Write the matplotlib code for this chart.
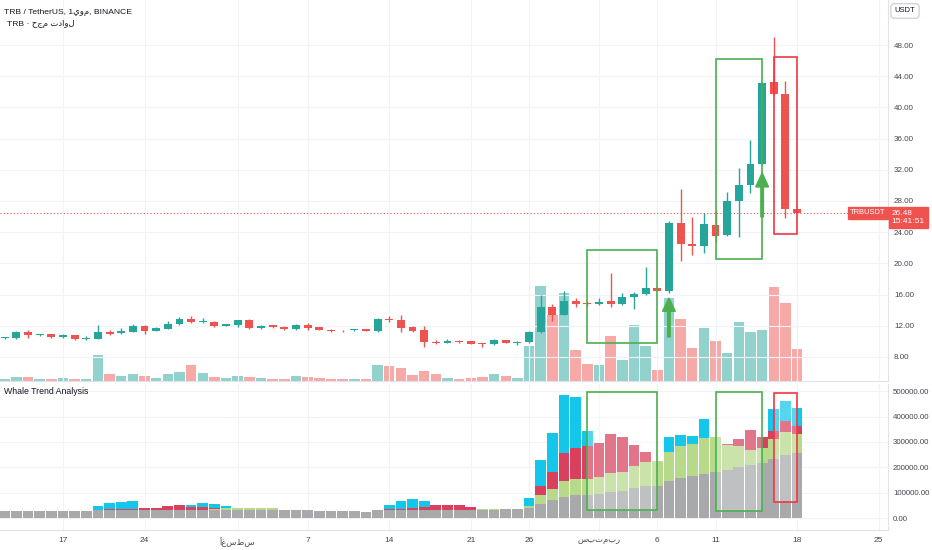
import matplotlib
matplotlib.use('Agg')
import matplotlib.pyplot as plt
import matplotlib.dates as mdates
from matplotlib.patches import Rectangle
from matplotlib.ticker import FuncFormatter
import pandas as pd
import numpy as np

plt.rcParams['font.family'] = ['Liberation Sans', 'DejaVu Sans']

# daily candles TRB/USDT, 12 Jul -> 18 Sep
dates = pd.date_range('2023-07-12', '2023-09-18', freq='D')
opens = [10.38, 10.38, 11.15, 10.85, 10.97, 10.50, 10.80, 10.25, 10.29, 11.15,
         11.06, 11.23, 11.96, 11.36, 11.57, 12.17, 12.85, 12.43, 12.50, 12.00,
         12.04, 12.68, 11.70, 12.04, 11.79, 11.53, 12.08, 11.79, 11.49, 11.36,
         11.40, 11.53, 11.27, 12.90, 12.77, 11.79, 11.40, 9.95, 9.78, 10.08,
         9.99, 9.82, 9.60, 10.12, 9.78, 9.90, 11.25, 14.45, 13.43, 15.22,
         14.78, 14.75, 15.13, 14.75, 15.73, 16.07, 16.90, 16.50, 25.13, 22.44,
         22.27, 24.90, 23.60, 28.00, 30.05, 32.70, 43.20, 41.70, 26.97]
highs = [10.52, 11.27, 11.40, 11.00, 11.00, 10.97, 10.85, 10.63, 12.04, 11.50,
         11.66, 12.20, 12.13, 11.87, 12.64, 13.10, 13.30, 12.98, 12.55, 12.25,
         12.77, 12.85, 12.08, 12.10, 11.92, 12.26, 12.34, 11.85, 11.57, 11.40,
         11.62, 11.60, 13.00, 13.30, 13.37, 12.00, 12.00, 10.20, 10.25, 10.20,
         10.05, 9.85, 10.30, 10.20, 10.00, 11.30, 15.95, 14.79, 16.40, 15.56,
         15.20, 15.50, 18.80, 16.16, 16.30, 19.58, 16.95, 25.40, 29.60, 25.90,
         26.40, 26.80, 29.10, 32.27, 35.80, 43.20, 48.98, 43.38, 27.00]
lows = [10.30, 10.30, 10.38, 10.63, 10.48, 10.42, 10.20, 10.22, 10.25, 10.80,
        10.97, 11.20, 10.97, 11.32, 11.55, 12.08, 12.30, 12.40, 11.90, 11.95,
        11.83, 11.62, 11.62, 11.70, 11.40, 11.50, 11.40, 11.40, 11.23, 11.20,
        11.36, 11.30, 11.25, 12.43, 11.23, 11.19, 9.22, 9.70, 9.75, 9.82,
        9.60, 9.26, 9.55, 9.75, 9.52, 9.84, 11.10, 12.57, 13.40, 14.45,
        14.50, 14.70, 14.45, 14.67, 14.15, 16.00, 16.40, 16.25, 20.35, 21.07,
        21.30, 22.80, 23.50, 23.34, 29.00, 32.60, 41.60, 25.86, 26.40]
closes = [10.45, 11.15, 10.80, 10.97, 10.50, 10.80, 10.33, 10.46, 11.15, 11.00,
          11.32, 12.00, 11.36, 11.70, 12.26, 12.90, 12.47, 12.60, 11.96, 12.20,
          12.68, 11.66, 11.96, 11.79, 11.53, 12.04, 11.66, 11.44, 11.32, 11.27,
          11.53, 11.36, 12.90, 12.73, 11.75, 11.36, 9.86, 9.78, 10.08, 9.95,
          9.70, 9.60, 10.12, 9.78, 9.95, 11.23, 14.45, 13.43, 15.22, 14.75,
          14.74, 15.10, 14.75, 15.73, 16.07, 16.90, 16.50, 25.13, 22.44, 22.27,
          25.00, 23.55, 28.00, 30.05, 32.70, 43.08, 41.70, 26.97, 26.48]
# relative volume (no scale shown on the chart)
volume = [2.3, 4.0, 4.0, 2.0, 2.0, 2.7, 2.3, 1.7, 26.3, 6.7,
          5.3, 6.7, 4.7, 3.3, 7.3, 8.7, 15.7, 8.0, 4.3, 3.0,
          5.0, 4.3, 2.7, 2.3, 2.3, 4.7, 4.0, 3.0, 2.3, 1.7,
          2.0, 1.7, 15.7, 14.7, 12.7, 6.0, 10.0, 6.7, 3.0, 2.3,
          3.0, 4.0, 7.3, 5.0, 3.0, 35.0, 95.0, 65.7, 88.3, 31.0,
          17.0, 16.3, 44.7, 21.3, 56.0, 35.3, 11.0, 83.3, 61.7, 33.0,
          53.0, 40.0, 28.3, 59.0, 49.3, 51.3, 94.0, 78.0, 32.0]

# Whale Trend Analysis columns (thousands), 0 = hidden
whale_gray = [29, 29, 29, 29, 27, 27, 27, 27, 31, 31,
              31, 31, 31, 31, 31, 31, 31, 31, 31, 31,
              31, 31, 31, 31, 31, 31, 31, 29, 29, 29,
              29, 26, 33, 33, 33, 33, 33, 33, 33, 33,
              33, 33, 33, 35, 35, 42, 56, 71, 84, 90,
              92, 96, 102, 107, 118, 127, 127, 147, 157, 166,
              173, 181, 190, 201, 209, 216, 234, 249, 257]
whale_green = [0, 0, 0, 0, 0, 0, 0, 0, 0, 0,
               0, 0, 0, 0, 0, 0, 0, 0, 38, 41,
               39, 39, 39, 39, 32, 32, 32, 0, 0, 0,
               0, 0, 0, 0, 0, 0, 0, 0, 0, 0,
               0, 35, 35, 37, 37, 50, 92, 117, 148, 154,
               154, 162, 178, 181, 207, 221, 225, 260, 283, 292,
               314, 318, 288, 284, 268, 278, 312, 339, 332]
whale_red = [0, 0, 0, 0, 0, 0, 0, 0, 34, 36,
             36, 38, 42, 41, 48, 53, 44, 44, 40, 0,
             0, 0, 0, 0, 0, 0, 0, 0, 0, 0,
             0, 0, 0, 36, 38, 42, 46, 53, 53, 53,
             45, 0, 0, 0, 0, 0, 127, 181, 255, 278,
             285, 297, 331, 321, 288, 262, 0, 0, 0, 0,
             0, 0, 291, 312, 346, 318, 345, 384, 364]
whale_cyan = [0, 0, 0, 0, 0, 0, 0, 0, 50, 59,
              64, 69, 0, 0, 0, 0, 54, 61, 57, 48,
              0, 0, 0, 0, 0, 0, 0, 0, 0, 0,
              0, 0, 0, 53, 68, 76, 68, 0, 0, 0,
              0, 0, 0, 0, 0, 78, 229, 337, 484, 475,
              343, 0, 0, 0, 0, 0, 0, 319, 326, 323,
              390, 0, 0, 0, 0, 0, 430, 462, 432]

tick_dates = ['2023-07-17', '2023-07-24', '2023-08-01', '2023-08-07', '2023-08-14', '2023-08-21',
              '2023-08-26', '2023-09-01', '2023-09-06', '2023-09-11', '2023-09-18', '2023-09-25']
tick_labels = ['17', '24', 'أغسطس', '7', '14', '21', '26', 'سبتمبر', '6', '11', '18', '25']
price_ticks = [8, 12, 16, 20, 24, 28, 32, 36, 40, 44, 48]
whale_ticks = [0, 100000, 200000, 300000, 400000, 500000]
last_price = 26.48

UP, DOWN = '#26a69a', '#ef5350'
GRID = '#f0f3fa'
TXT = '#131722'
AXT = '#434651'

x = mdates.date2num(dates)
o, h, l, c = map(np.array, (opens, highs, lows, closes))
up = c >= o
x0 = mdates.date2num(pd.Timestamp('2023-07-17'))
xt = mdates.date2num(pd.to_datetime(tick_dates))

def day(s):
    return mdates.date2num(pd.Timestamp(s))

fig = plt.figure(figsize=(9.32, 5.5), dpi=100)
ax = fig.add_axes([0, 1 - 381 / 550, 888 / 932, 381 / 550])
axv = ax.twinx()
ax2 = fig.add_axes([0, 20 / 550, 888 / 932, 146 / 550], sharex=ax)

# volume under the candles
axv.bar(x, volume, width=0.9, color=np.where(up, '#92d2cc', '#f7a9a7'), zorder=1)
axv.set_ylim(0, 381)
axv.set_yticks([])
for s in axv.spines.values():
    s.set_visible(False)
ax.set_zorder(axv.get_zorder() + 1)
ax.patch.set_visible(False)

# candles
col = np.where(up, UP, DOWN)
ax.vlines(x, l, h, colors=col, lw=1, zorder=3)
body = np.maximum(np.abs(c - o), 0.12)
ax.bar(x, body, bottom=np.minimum(o, c), width=0.68, color=col, zorder=4)

ax.axhline(last_price, color=DOWN, ls=(0, (1, 2)), lw=0.8, zorder=2)

# drawings
ax.add_patch(Rectangle((day('2023-08-31'), 9.79), 6, 21.72 - 9.79, fill=False, ec='#4caf50', lw=1.2, zorder=5))
ax.add_patch(Rectangle((day('2023-09-11'), 20.53), 4, 46.17 - 20.53, fill=False, ec='#4caf50', lw=1.2, zorder=5))
ax.add_patch(Rectangle((day('2023-09-16'), 23.77), 2, 46.5 - 23.77, fill=False, ec='#f23645', lw=1.2, zorder=5))
ax.arrow(day('2023-09-07'), 10.56, 0, 5.0, width=0.22, head_width=1.1, head_length=1.7,
         length_includes_head=True, color='#4caf50', zorder=6)
ax.arrow(day('2023-09-15'), 25.95, 0, 5.65, width=0.22, head_width=1.1, head_length=1.8,
         length_includes_head=True, color='#4caf50', zorder=6)

ax.set_xlim(x0 - 5.4, x0 + 70.8)
ax.set_ylim(4.92, 53.77)
ax.yaxis.tick_right()
ax.set_yticks(price_ticks)
ax.yaxis.set_major_formatter(FuncFormatter(lambda v, p: f'{v:.2f}'))
ax.tick_params(axis='y', length=0, pad=4.3, labelsize=5.8, labelcolor=AXT)
ax.set_xticks(xt)
ax.tick_params(axis='x', length=0, labelbottom=False)
ax.grid(color=GRID, lw=0.8)
for k in ['top', 'left']:
    ax.spines[k].set_visible(False)
ax.spines['right'].set_color('#e0e3eb')
ax.spines['bottom'].set_color('#e0e3eb')

# price labels on the right
ax.text(0.997, last_price, 'TRBUSDT', transform=ax.get_yaxis_transform(), ha='right', va='center',
        fontsize=5.4, color='white', zorder=7,
        bbox=dict(boxstyle='square,pad=0.3', fc=DOWN, ec=DOWN))
ax.text(1.004, last_price - 0.55, '26.48\n15:41:51', transform=ax.get_yaxis_transform(), ha='left', va='center',
        fontsize=6, color='white', linespacing=1.2, zorder=7,
        bbox=dict(boxstyle='square,pad=0.35', fc=DOWN, ec=DOWN), clip_on=False)

# whale trend panel: overlapping columns
w = 0.92
ax2.bar(x, whale_cyan, width=w, color='#14c6ea', zorder=2)
ax2.bar(x, whale_red, width=w, color='#d8405e', zorder=3)
ax2.bar(x, whale_green, width=w, color='#b6d98a', zorder=4)
ax2.bar(x, whale_gray, width=w, color='#a7a9ab', zorder=5)
for xs, span, lo, hi, ec in [('2023-08-31', 6, 32600, 495000, '#4caf50'),
                             ('2023-09-11', 4, 28700, 497000, '#4caf50'),
                             ('2023-09-16', 2, 65000, 493000, '#f23645')]:
    ax2.add_patch(Rectangle((day(xs), lo / 1000), span, (hi - lo) / 1000,
                            fc=(1, 1, 1, 0.28), ec=ec, lw=1.2, zorder=6))
ax2.set_ylim(-46, 528)
ax2.yaxis.tick_right()
ax2.set_yticks([t / 1000 for t in whale_ticks])
ax2.set_yticklabels([f'{t:.2f}' for t in whale_ticks])
ax2.tick_params(axis='y', length=0, pad=3.6, labelsize=5.7, labelcolor=AXT)
ax2.set_xticks(xt)
ax2.set_xticklabels(tick_labels)
ax2.tick_params(axis='x', length=0, pad=5, labelsize=6, labelcolor=AXT)
ax2.grid(color=GRID, lw=0.8)
ax2.set_axisbelow(True)
for k in ['top', 'left']:
    ax2.spines[k].set_visible(False)
ax2.spines['right'].set_color('#e0e3eb')
ax2.spines['bottom'].set_color('#e0e3eb')

fig.text(4 / 932, 1 - 12 / 550, 'TRB / TetherUS, 1يوم, BINANCE', fontsize=6.1, color=TXT, va='center')
fig.text(7 / 932, 1 - 24 / 550, 'TRB · حجم تداول', fontsize=6.1, color=TXT, va='center')
fig.text(4 / 932, 1 - 392 / 550, 'Whale Trend Analysis', fontsize=6.3, color=TXT, va='center')
fig.text(905 / 932, 1 - 11 / 550, 'USDT', fontsize=5.5, color=TXT, ha='center', va='center',
         bbox=dict(boxstyle='round,pad=0.5', fc='white', ec='#d1d4dc'))

fig.savefig('out.png', dpi=100)
